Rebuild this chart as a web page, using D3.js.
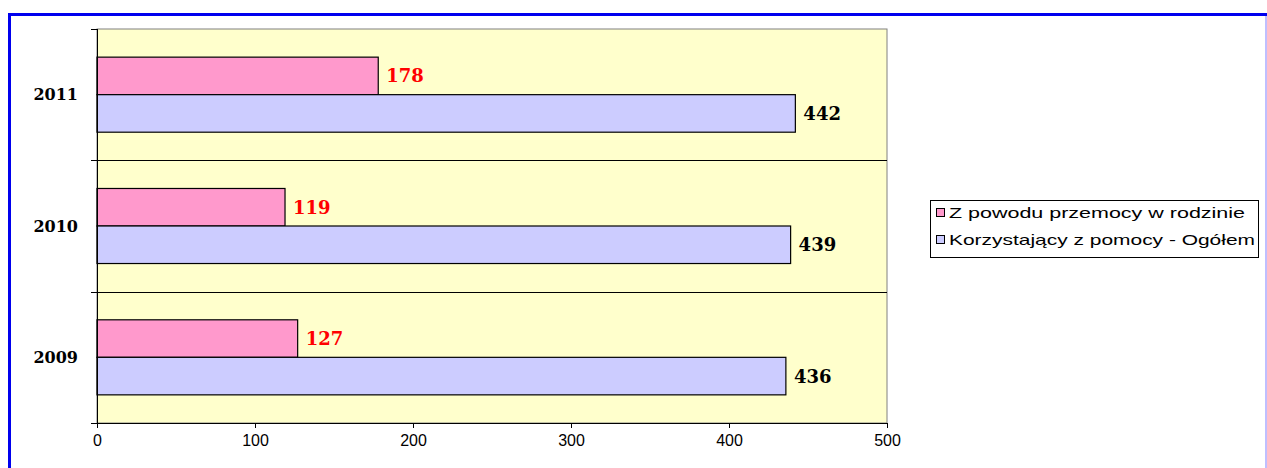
<!DOCTYPE html>
<html>
<head>
<meta charset="utf-8">
<script src="https://cdn.jsdelivr.net/npm/d3@7"></script>
<style>
  body { margin: 0; background: #fff; }
  svg { display: block; }
</style>
</head>
<body>
<div id="chart"></div>
<script>
const years = ["2011", "2010", "2009"];
const seriesNames = ["Z powodu przemocy w rodzinie", "Korzystający z pomocy - Ogółem"];
const violenceValues = [178, 119, 127];
const totalValues = [442, 439, 436];
const xTicks = [0, 100, 200, 300, 400, 500];

const width = 1267,
    height = 468;

const plot = {left: 97, right: 887, top: 29, bottom: 423};

const svg = d3.select("#chart")
    .append("svg")
    .attr("width", width)
    .attr("height", height);

// blue frame round the chart
svg.append("line")
    .attr("x1", 8).attr("x2", width).attr("y1", 14.5).attr("y2", 14.5)
    .attr("stroke", "#0000ee").attr("stroke-width", 3);
svg.append("line")
    .attr("x1", 9.5).attr("x2", 9.5).attr("y1", 13).attr("y2", height)
    .attr("stroke", "#0000ee").attr("stroke-width", 3);
svg.append("line")
    .attr("x1", 1266).attr("x2", 1266).attr("y1", 16).attr("y2", height)
    .attr("stroke", "#aaaaff").attr("stroke-width", 1.5);

const x = d3.scaleLinear()
    .domain([0, 500])
    .range([plot.left, plot.right]);

const y0 = d3.scaleBand()
    .domain(years)
    .range([plot.top, plot.bottom]);

const y1 = d3.scaleBand()
    .domain([0, 1])
    .range([0, y0.bandwidth()])
    .paddingOuter(0.75);

const colors = ["#ff99cc", "#ccccff"];
const labelColors = ["#ff0000", "#000000"];

// plot background
svg.append("rect")
    .attr("x", plot.left)
    .attr("y", plot.top)
    .attr("width", plot.right - plot.left)
    .attr("height", plot.bottom - plot.top)
    .attr("fill", "#ffffcc")
    .attr("stroke", "#808080")
    .attr("stroke-width", 1);

// gridlines between categories
svg.append("g")
    .selectAll("line")
    .data(years.slice(1))
    .enter().append("line")
    .attr("x1", plot.left)
    .attr("x2", plot.right)
    .attr("y1", function(d) { return Math.round(y0(d)) + 0.5; })
    .attr("y2", function(d) { return Math.round(y0(d)) + 0.5; })
    .attr("stroke", "#000")
    .attr("stroke-width", 1);

const rows = years.map(function(year, i) {
    return {year: year, values: [violenceValues[i], totalValues[i]]};
});

const groups = svg.append("g")
    .selectAll("g")
    .data(rows)
    .enter().append("g")
    .attr("transform", function(d) { return "translate(0," + y0(d.year) + ")"; });

groups.selectAll("rect")
    .data(function(d) { return d.values.map(function(v, s) { return {value: v, series: s}; }); })
    .enter().append("rect")
    .attr("x", x(0))
    .attr("y", function(d) { return y1(d.series); })
    .attr("width", function(d) { return x(d.value) - x(0); })
    .attr("height", y1.bandwidth())
    .attr("fill", function(d) { return colors[d.series]; })
    .attr("stroke", "#000")
    .attr("stroke-width", 1.2);

groups.selectAll("text")
    .data(function(d) { return d.values.map(function(v, s) { return {value: v, series: s}; }); })
    .enter().append("text")
    .attr("x", function(d) { return x(d.value) + 8; })
    .attr("y", function(d) { return y1(d.series) + y1.bandwidth() / 2; })
    .attr("dy", "0.36em")
    .attr("font-family", "DejaVu Serif, serif")
    .attr("font-weight", "bold")
    .attr("font-size", 18)
    .attr("fill", function(d) { return labelColors[d.series]; })
    .text(function(d) { return d.value; });

// x axis
const xAxis = svg.append("g")
    .attr("transform", "translate(0," + plot.bottom + ")")
    .call(d3.axisBottom(x).tickValues(xTicks).tickSize(5).tickPadding(7).tickSizeOuter(0));
xAxis.select(".domain").attr("stroke", "#000");
xAxis.selectAll("text")
    .attr("font-family", "Liberation Sans, Arial, sans-serif")
    .attr("font-size", 16)
    .attr("fill", "#000");

// y axis: ticks on category boundaries
const yAxis = svg.append("g");
yAxis.append("line")
    .attr("x1", plot.left + 0.5).attr("x2", plot.left + 0.5)
    .attr("y1", plot.top).attr("y2", plot.bottom)
    .attr("stroke", "#000");
yAxis.selectAll(".tick")
    .data(years.concat(["end"]))
    .enter().append("line")
    .attr("x1", plot.left - 6)
    .attr("x2", plot.left)
    .attr("y1", function(d) { return (d === "end" ? plot.bottom : Math.round(y0(d))) + 0.5; })
    .attr("y2", function(d) { return (d === "end" ? plot.bottom : Math.round(y0(d))) + 0.5; })
    .attr("stroke", "#000");
yAxis.selectAll("text")
    .data(years)
    .enter().append("text")
    .attr("x", 78)
    .attr("y", function(d) { return y0(d) + y0.bandwidth() / 2; })
    .attr("dy", "0.36em")
    .attr("text-anchor", "end")
    .attr("font-family", "DejaVu Serif, serif")
    .attr("font-weight", "bold")
    .attr("font-size", 16)
    .text(function(d) { return d; });

// legend
const legendWidths = [296, 306];
const legend = svg.append("g");
legend.append("rect")
    .attr("x", 930.5).attr("y", 200.5)
    .attr("width", 328).attr("height", 57)
    .attr("fill", "#fff")
    .attr("stroke", "#000");
const items = legend.selectAll("g")
    .data(seriesNames)
    .enter().append("g")
    .attr("transform", function(d, i) { return "translate(936," + (213 + i * 27) + ")"; });
items.append("rect")
    .attr("x", 0.5).attr("y", -4.5)
    .attr("width", 8).attr("height", 8)
    .attr("fill", function(d, i) { return colors[i]; })
    .attr("stroke", "#000");
items.append("text")
    .attr("x", 13)
    .attr("y", 0)
    .attr("dy", "0.36em")
    .attr("font-family", "Liberation Sans, Arial, sans-serif")
    .attr("font-size", 15)
    .attr("textLength", function(d, i) { return legendWidths[i]; })
    .attr("lengthAdjust", "spacingAndGlyphs")
    .text(function(d) { return d; });
</script>
</body>
</html>
